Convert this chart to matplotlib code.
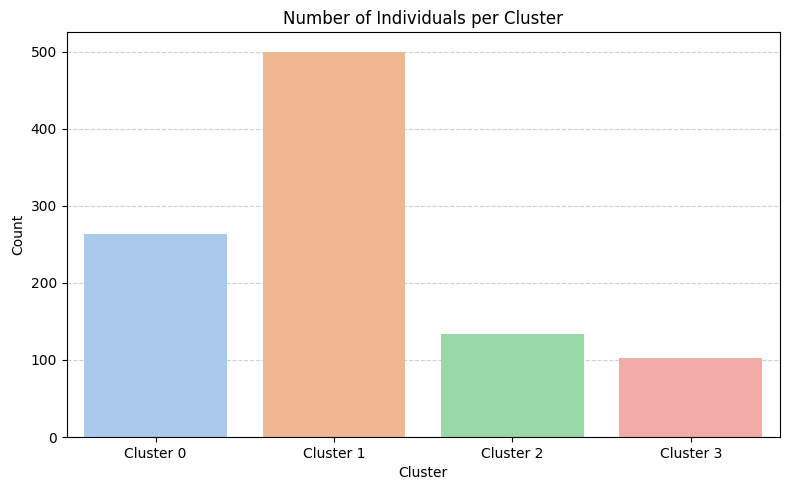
import matplotlib
matplotlib.use('Agg')
import matplotlib.pyplot as plt
import seaborn as sns

clusters = ['Cluster 0', 'Cluster 1', 'Cluster 2', 'Cluster 3']
counts = [264, 500, 134, 102]

# seaborn barplot desaturates its colours to 0.75
colors = [sns.desaturate(c, 0.75) for c in sns.color_palette('pastel', 4)]

fig, ax = plt.subplots(figsize=(7.9, 4.9), dpi=100)
ax.bar(clusters, counts, color=colors, width=0.8, zorder=2)
ax.set_title('Number of Individuals per Cluster')
ax.set_xlabel('Cluster')
ax.set_ylabel('Count')
ax.grid(axis='y', linestyle='--', alpha=0.6, zorder=0)
ax.set_xlim(-0.5, 3.5)
fig.subplots_adjust(left=66.5 / 790, right=780 / 790, top=1 - 32.5 / 490, bottom=1 - 437 / 490)
plt.savefig('out.png')
